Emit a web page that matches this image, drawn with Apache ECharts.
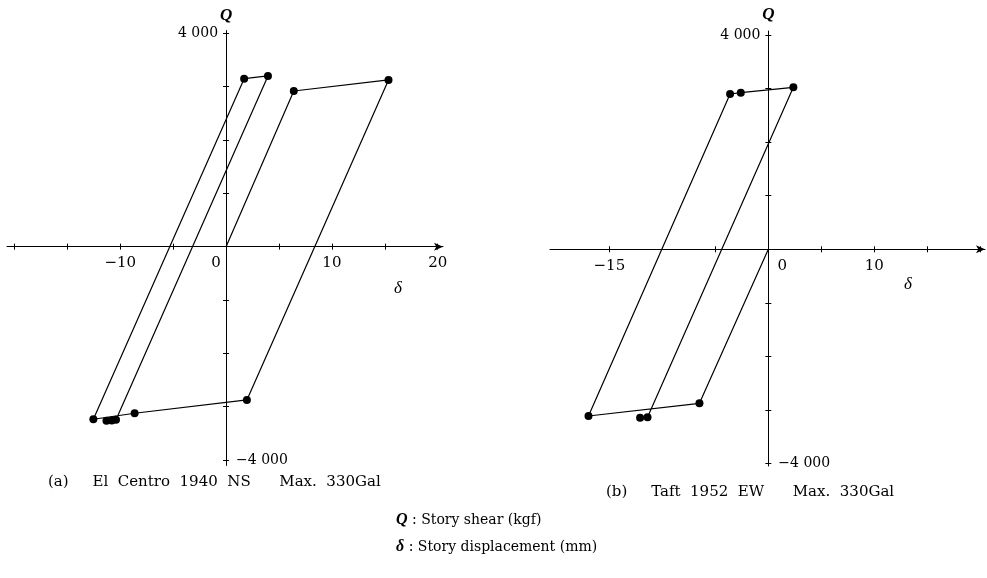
<!DOCTYPE html>
<html>
<head>
<meta charset="utf-8">
<script src="https://cdn.jsdelivr.net/npm/echarts@6/dist/echarts.min.js"></script>
<style>
html,body{margin:0;padding:0;background:#fff;}
#c{width:987px;height:578px;}
</style>
</head>
<body>
<div id="c"></div>
<script>
// (a) El Centro 1940 NS — story displacement δ (mm) and story shear Q (kgf)
const deltaA = [0, 6.4, 15.35, 1.97, -8.64, -12.54, 1.71, 3.96, -10.4, -10.8, -11.3];
const shearA = [0, 2918, 3125, -2873, -3123, -3235, 3149, 3200, -3245, -3258, -3262];
// (b) Taft 1952 EW
const deltaB = [0, -6.5, -16.97, -3.61, -2.6, 2.36, -11.4, -12.1];
const shearB = [0, -2874, -3111, 2898, 2923, 3023, -3136, -3143];

// tick marks and tick labels
const xTicksA = [-20, -15, -10, -5, 5, 10, 15, 20];
const xLabelsA = [-10, 0, 10, 20];
const xTicksB = [-15, -5, 5, 10, 15, 20];
const xLabelsB = [-15, 0, 10];
const yTicks = [-4000, -3000, -2000, -1000, 1000, 2000, 3000, 4000];
const yLabelTop = [4000];
const yLabelBottom = [-4000];

const captionA = '(a)     El  Centro  1940  NS      Max.  330Gal';
const captionB = '(b)     Taft  1952  EW      Max.  330Gal';
const legendQ = '{i|Q} : Story shear (kgf)';
const legendD = '{i|δ} : Story displacement (mm)';

const pairs = (xs, ys) => xs.map((x, i) => [x, ys[i]]);
const fmtNum = v => (v < 0 ? '\u2212' : '') + String(Math.abs(v)).replace(/(\d)(?=(\d{3})+$)/g, '$1 ');

const serif = 'DejaVu Serif';
const black = '#000';

// layout of the two panels (pixel boxes of the plotting areas)
const panels = [
  { left: 7, top: 30.6, width: 436, height: 434.8, xMin: -20.7, xMax: 20.5, yMin: -4100, yMax: 4050 },
  { left: 550, top: 31, width: 435, height: 435, xMin: -20.6, xMax: 20.44, yMin: -4044, yMax: 4074 }
];
// distance from the grid's bottom / left edge to the zero line, from the axis ranges
const zeroFromBottom = p => p.height * (0 - p.yMin) / (p.yMax - p.yMin);
const zeroFromLeft = p => p.width * (0 - p.xMin) / (p.xMax - p.xMin);

function xAxesFor(gi, ticks, labels, zeroPad, nameGap, namePad) {
  const p = panels[gi];
  const off = -zeroFromBottom(p);
  return [
    {
      gridIndex: gi, type: 'value', min: p.xMin, max: p.xMax, position: 'bottom', offset: off,
      axisLine: { onZero: false, lineStyle: { color: black, width: 1 }, symbol: ['none', 'arrow'], symbolSize: [6, 9] },
      axisTick: { show: true, customValues: ticks, length: 3, lineStyle: { color: black } },
      axisLabel: {
        customValues: labels, margin: 9, color: black, fontFamily: serif, fontSize: 15,
        formatter: v => v === 0 ? '{z|0}' : fmtNum(v),
        rich: { z: { padding: zeroPad, fontFamily: serif, fontSize: 15, color: black } }
      },
      splitLine: { show: false },
      name: 'δ', nameLocation: 'end', nameGap: nameGap,
      nameTextStyle: { fontFamily: 'Liberation Serif', fontStyle: 'italic', fontSize: 17, color: black, align: 'center', verticalAlign: 'top', padding: [namePad, 0, 0, 0] }
    },
    {
      gridIndex: gi, type: 'value', min: p.xMin, max: p.xMax, position: 'bottom', offset: off,
      axisLine: { show: false, onZero: false },
      axisTick: { show: true, inside: true, customValues: ticks, length: 3, lineStyle: { color: black } },
      axisLabel: { show: false },
      splitLine: { show: false }
    }
  ];
}

function yAxesFor(gi, nameGap) {
  const p = panels[gi];
  const off = -zeroFromLeft(p);
  return [
    {
      gridIndex: gi, type: 'value', min: p.yMin, max: p.yMax, position: 'left', offset: off,
      axisLine: { onZero: false, lineStyle: { color: black, width: 1 } },
      axisTick: { show: true, customValues: yTicks, length: 3, lineStyle: { color: black } },
      axisLabel: { customValues: yLabelTop, margin: 8, color: black, fontFamily: serif, fontSize: 14, formatter: fmtNum },
      splitLine: { show: false },
      name: 'Q', nameLocation: 'end', nameGap: nameGap,
      nameTextStyle: { fontFamily: 'Liberation Serif', fontStyle: 'italic', fontWeight: 'bold', fontSize: 17, color: black, align: 'center', verticalAlign: 'middle' }
    },
    {
      gridIndex: gi, type: 'value', min: p.yMin, max: p.yMax, position: 'left', offset: off,
      axisLine: { show: false, onZero: false },
      axisTick: { show: true, inside: true, customValues: yTicks, length: 3, lineStyle: { color: black } },
      axisLabel: { inside: true, customValues: yLabelBottom, margin: 10, color: black, fontFamily: serif, fontSize: 14, formatter: fmtNum },
      splitLine: { show: false }
    }
  ];
}

function loop(xi, yi, xs, ys) {
  return {
    type: 'line', xAxisIndex: xi, yAxisIndex: yi,
    data: pairs(xs, ys),
    symbol: (v, p) => p.dataIndex === 0 ? 'none' : 'circle',
    symbolSize: 8, showSymbol: true, showAllSymbol: true,
    lineStyle: { color: black, width: 1.2 },
    itemStyle: { color: black, borderWidth: 0 },
    emphasis: { disabled: true },
    animation: false, silent: true, z: 3
  };
}

const titleStyle = { fontFamily: serif, fontSize: 15, fontWeight: 'normal', color: black };
const legendStyle = {
  fontFamily: serif, fontSize: 14, fontWeight: 'normal', color: black,
  rich: { i: { fontFamily: 'Liberation Serif', fontStyle: 'italic', fontWeight: 'bold', fontSize: 16, color: black } }
};

const chart = echarts.init(document.getElementById('c'), null, { renderer: 'canvas' });
chart.setOption({
  backgroundColor: '#fff',
  animation: false,
  title: [
    { text: captionA, left: 48, top: 475, padding: 0, textStyle: titleStyle },
    { text: captionB, left: 606, top: 485, padding: 0, textStyle: titleStyle },
    { text: legendQ, left: 396, top: 512, padding: 0, textStyle: legendStyle },
    { text: legendD, left: 396, top: 539, padding: 0, textStyle: legendStyle }
  ],
  grid: panels.map(p => ({ left: p.left, top: p.top, width: p.width, height: p.height, containLabel: false, outerBoundsMode: 'none' })),
  xAxis: [].concat(
    xAxesFor(0, xTicksA, xLabelsA, [0, 20, 0, 0], -45, 33),
    xAxesFor(1, xTicksB, xLabelsB, [0, 0, 0, 28], -77, 27)
  ),
  yAxis: [].concat(
    yAxesFor(0, 15),
    yAxesFor(1, 16)
  ),
  series: [
    loop(0, 0, deltaA, shearA),
    loop(2, 2, deltaB, shearB)
  ]
});
</script>
</body>
</html>
